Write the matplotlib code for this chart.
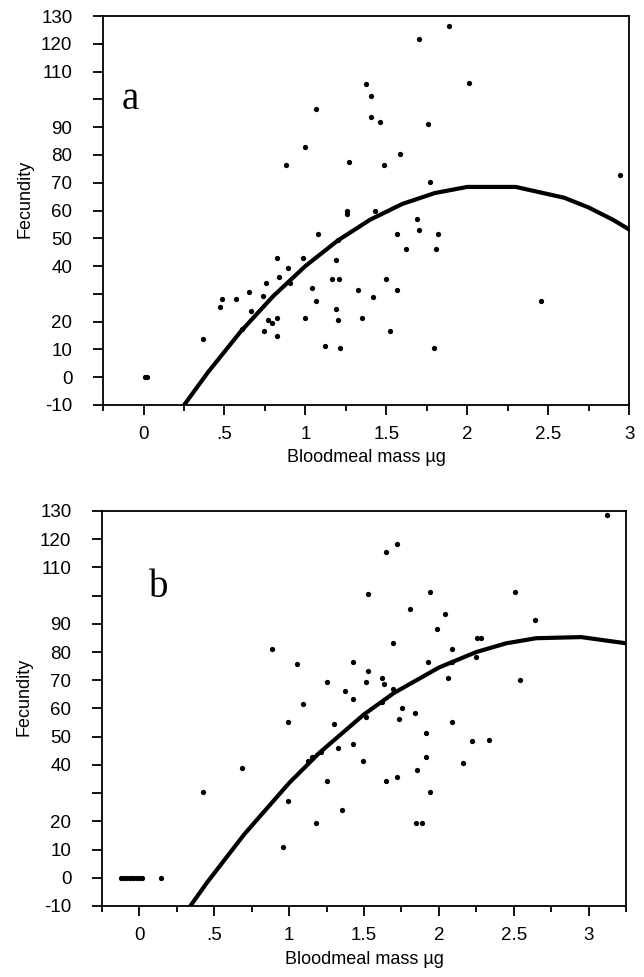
import matplotlib
matplotlib.use("Agg")
import matplotlib.pyplot as plt
from matplotlib.ticker import MultipleLocator

# datos leidos de la figura
# panel a
xa = [1.373, 1.406, 1.068, 1.0, 0.879, 1.271, 1.256, 1.256, 1.08, 1.89,
      1.70, 2.013, 1.406, 1.46, 1.755, 1.582, 1.488, 1.77, 2.944, 1.433,
      1.69, 1.568, 1.70, 1.82, 1.20, 0.824, 0.988, 0.892, 1.19, 0.836,
      0.756, 0.904, 1.162, 1.205, 0.65, 0.74, 0.486, 0.57, 0.474, 1.04,
      1.068, 1.324, 0.664, 1.19, 0.77, 0.797, 0.824, 0.998, 1.20, 1.35,
      0.61, 0.742, 0.824, 0.367, 1.121, 1.216, 0.01, 0.02, 1.62, 1.81,
      1.50, 1.568, 1.42, 2.456, 1.525, 1.796]
ya = [105.5, 101.4, 96.7, 82.8, 76.4, 77.3, 59.9, 58.7, 51.5, 126.3,
      121.7, 106.0, 93.6, 92.0, 91.3, 80.3, 76.4, 70.3, 72.7, 60.0,
      57.0, 51.6, 53.0, 51.6, 49.4, 43.0, 43.0, 39.2, 42.2, 36.0,
      33.8, 33.8, 35.3, 35.3, 30.6, 29.1, 28.2, 28.2, 25.1, 32.2,
      27.5, 31.4, 23.7, 24.4, 20.6, 19.6, 21.3, 21.3, 20.5, 21.3,
      17.4, 16.6, 15.0, 13.6, 11.2, 10.4, 0, 0, 46.1, 46.1,
      35.3, 31.3, 29.0, 27.5, 16.5, 10.4]
fit_xa = [0.25, 0.4, 0.6, 0.8, 1.0, 1.2, 1.4, 1.6, 1.8, 2.0, 2.3, 2.6, 2.75, 2.9, 3.0]
fit_ya = [-10.1, 1.9, 16.4, 29.1, 40.0, 49.2, 56.7, 62.4, 66.3, 68.5, 68.5, 64.6, 61.1, 56.7, 53.2]

# panel b
xb = [1.528, 0.887, 1.05, 1.428, 1.528, 1.253, 1.515, 1.371, 1.428, 1.091,
      0.993, 1.297, 3.124, 1.722, 1.649, 1.94, 2.511, 1.809, 2.042, 1.985,
      2.644, 2.256, 2.28, 1.691, 2.087, 1.927, 2.089, 2.247, 1.62, 1.636,
      2.058, 2.54, 1.691, 1.62, 1.751, 1.84, 1.515, 1.735, 2.087, 1.428,
      1.327, 1.211, 1.153, 1.124, 1.491, 0.684, 1.253, 0.422, 0.993, 1.355,
      1.18, 0.962, -0.12, -0.10, -0.08, -0.06, -0.04, -0.02, 0.0, 0.02,
      0.145, 1.911, 2.22, 2.335, 1.911, 2.16, 1.853, 1.649, 1.722, 1.94,
      1.849, 1.885]
yb = [100.5, 81.1, 75.6, 76.4, 73.3, 69.4, 69.4, 66.3, 63.2, 61.7,
      55.3, 54.6, 128.6, 118.4, 115.3, 101.3, 101.3, 95.1, 93.5, 88.0,
      91.2, 85.0, 85.0, 83.3, 81.0, 76.4, 76.4, 78.2, 70.9, 68.6,
      70.9, 70.1, 66.9, 62.4, 60.0, 58.5, 57.0, 56.2, 55.3, 47.4,
      46.0, 44.5, 42.9, 41.4, 41.4, 39.0, 34.3, 30.4, 27.3, 24.1,
      19.5, 11.0, 0, 0, 0, 0, 0, 0, 0, 0,
      0, 51.4, 48.4, 49.0, 42.9, 40.6, 38.2, 34.3, 35.8, 30.4,
      19.5, 19.5]
fit_xb = [0.34, 0.45, 0.7, 1.0, 1.2, 1.5, 1.7, 2.0, 2.25, 2.45, 2.65, 2.95, 3.25]
fit_yb = [-10.0, -1.8, 15.4, 33.6, 44.2, 57.9, 65.5, 74.5, 80.0, 83.1, 84.9, 85.3, 83.1]

yticks = list(range(-10, 131, 10))
ylabels = ['' if t in (30, 100) else str(t) for t in yticks]
xticks = [0, 0.5, 1, 1.5, 2, 2.5, 3]
xlabels = ['0', '.5', '1', '1.5', '2', '2.5', '3']

fuente = 'Liberation Sans'

fig = plt.figure(figsize=(6.44, 9.77), dpi=100)
ax_a = fig.add_axes([0.160, 0.5855, 0.8168, 0.398])
ax_b = fig.add_axes([0.1584, 0.0727, 0.8137, 0.4043])


def dibujar(ax, x, y, fx, fy, xmax, letra, lx, ly):
    ax.plot(fx, fy, color='black', lw=3.0, solid_joinstyle='miter', zorder=2)
    ax.plot(x, y, 'o', color='black', ms=3.8, mew=0, zorder=3, clip_on=False)
    ax.set_xlim(-0.25, xmax)
    ax.set_ylim(-10, 130)
    ax.set_yticks(yticks)
    ax.set_yticklabels(ylabels, fontfamily=fuente, fontsize=13.5)
    ax.set_xticks(xticks)
    ax.set_xticklabels(xlabels, fontfamily=fuente, fontsize=13.5)
    ax.xaxis.set_minor_locator(MultipleLocator(0.25))
    ax.tick_params(axis='y', direction='out', length=7, width=1.3, pad=15)
    ax.tick_params(axis='x', which='major', direction='out', length=7, width=1.3, pad=8)
    ax.tick_params(axis='x', which='minor', direction='out', length=4.5, width=1.3)
    for s in ax.spines.values():
        s.set_linewidth(1.3)
    ax.set_ylabel('Fecundity', fontfamily=fuente, fontsize=13)
    ax.yaxis.set_label_coords(-0.133, 0.53)
    ax.set_xlabel('Bloodmeal mass µg', fontfamily=fuente, fontsize=13)
    ax.xaxis.set_label_coords(0.5, -0.114)
    ax.text(lx, ly, letra, transform=ax.transAxes, fontfamily='Liberation Serif',
            fontsize=28, ha='left', va='baseline')


dibujar(ax_a, xa, ya, fit_xa, fit_ya, 3.0, 'a', 0.036, 0.761)
dibujar(ax_b, xb, yb, fit_xb, fit_yb, 3.25, 'b', 0.09, 0.783)

plt.savefig('out.png', dpi=100)
